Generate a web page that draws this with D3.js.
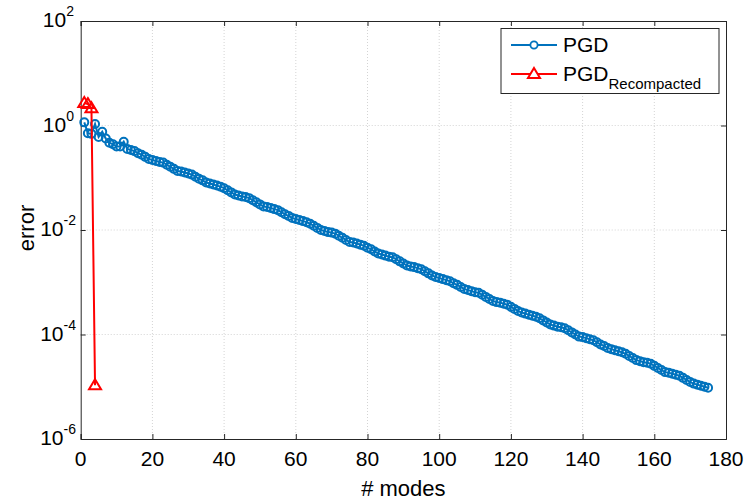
<!DOCTYPE html>
<html><head><meta charset="utf-8">
<script src="https://cdn.jsdelivr.net/npm/d3@7"></script>
<style>body{margin:0;background:#fff}svg{display:block}text{font-family:"Liberation Sans",Arial,sans-serif;fill:#000}</style>
</head><body>
<svg id="c" width="747" height="503"></svg>
<script>
// ---- data (log10 of error) ----
const pgdLog10 = [
  0.06,-0.15,-0.16,0.03,-0.22,-0.12,-0.25,-0.33,-0.36,-0.40,-0.40,-0.31,
  -0.45,-0.47,-0.49,-0.53,-0.56,-0.60,-0.64,-0.66,-0.68,-0.70,-0.71,-0.75,-0.79,-0.83,-0.87,-0.88,
  -0.90,-0.92,-0.94,-0.98,-1.02,-1.05,-1.09,-1.11,-1.13,-1.15,-1.17,-1.20,-1.24,-1.28,-1.32,-1.34,
  -1.36,-1.37,-1.39,-1.43,-1.47,-1.51,-1.55,-1.56,-1.58,-1.60,-1.62,-1.66,-1.70,-1.73,-1.77,-1.79,
  -1.81,-1.83,-1.85,-1.88,-1.92,-1.96,-2.00,-2.02,-2.04,-2.05,-2.07,-2.11,-2.15,-2.19,-2.23,-2.24,
  -2.26,-2.28,-2.30,-2.34,-2.37,-2.41,-2.45,-2.47,-2.49,-2.51,-2.52,-2.56,-2.60,-2.64,-2.68,-2.70,
  -2.71,-2.73,-2.75,-2.79,-2.83,-2.87,-2.90,-2.92,-2.94,-2.96,-2.98,-3.02,-3.05,-3.09,-3.13,-3.15,
  -3.17,-3.19,-3.20,-3.24,-3.28,-3.32,-3.36,-3.38,-3.39,-3.41,-3.43,-3.47,-3.51,-3.55,-3.58,-3.60,
  -3.62,-3.64,-3.66,-3.69,-3.73,-3.77,-3.81,-3.83,-3.85,-3.86,-3.88,-3.92,-3.96,-4.00,-4.04,-4.05,
  -4.07,-4.09,-4.11,-4.15,-4.19,-4.22,-4.26,-4.28,-4.30,-4.32,-4.34,-4.37,-4.41,-4.45,-4.49,-4.51,
  -4.53,-4.54,-4.56,-4.60,-4.64,-4.68,-4.72,-4.73,-4.75,-4.77,-4.79,-4.83,-4.87,-4.91,-4.94,-4.96,
  -4.98,-5.00,-5.02
];
const recompModes = [1, 2, 3, 4];
const recompLog10 = [0.43, 0.41, 0.33, -4.97];
const xTicks = [0, 20, 40, 60, 80, 100, 120, 140, 160, 180];
const yTickExps = [-6, -4, -2, 0, 2];
const seriesNames = ["PGD", "PGD"];
const seriesSub = ["", "Recompacted"];
const seriesColors = ["#0072BD", "#FF0000"];

const pgd = pgdLog10.map((v, i) => ({x: i + 1, y: Math.pow(10, v)}));
const rec = recompModes.map((m, i) => ({x: m, y: Math.pow(10, recompLog10[i])}));

const L = 80.7, R = 726, T = 21, B = 439;
const x = d3.scaleLinear().domain([0, 180]).range([L, R]);
const y = d3.scaleLog().domain([1e-6, 1e2]).range([B, T]);
const svg = d3.select("#c");
const axisCol = "#262626";

// grid
const grid = svg.append("g");
grid.selectAll("line.gx").data(xTicks.slice(1, -1)).enter().append("line")
  .attr("x1", d => x(d)).attr("x2", d => x(d)).attr("y1", T).attr("y2", B)
  .attr("stroke", "#d4d4d4").attr("stroke-width", 1).attr("stroke-dasharray", "1,2");
grid.selectAll("line.gy").data(yTickExps.slice(1, -1)).enter().append("line")
  .attr("y1", d => y(Math.pow(10, d))).attr("y2", d => y(Math.pow(10, d))).attr("x1", L).attr("x2", R)
  .attr("stroke", "#d4d4d4").attr("stroke-width", 1).attr("stroke-dasharray", "1,2");

// axes via d3
const xAxisB = d3.axisBottom(x).tickValues(xTicks).tickSize(-5).tickFormat("");
const xAxisT = d3.axisTop(x).tickValues(xTicks).tickSize(-5).tickFormat("");
const yVals = yTickExps.map(e => Math.pow(10, e));
const yAxisL = d3.axisLeft(y).tickValues(yVals).tickSize(-5).tickFormat("");
const yAxisR = d3.axisRight(y).tickValues(yVals).tickSize(-5).tickFormat("");
function styleAxis(g) {
  g.selectAll("path").attr("stroke", axisCol).attr("stroke-width", 1);
  g.selectAll("line").attr("stroke", axisCol).attr("stroke-width", 1);
}
svg.append("g").attr("transform", `translate(0,${B})`).call(xAxisB).call(styleAxis);
svg.append("g").attr("transform", `translate(0,${T})`).call(xAxisT).call(styleAxis);
svg.append("g").attr("transform", `translate(${L},0)`).call(yAxisL).call(styleAxis);
svg.append("g").attr("transform", `translate(${R},0)`).call(yAxisR).call(styleAxis);

// tick labels
svg.append("g").selectAll("text").data(xTicks).enter().append("text")
  .attr("x", d => x(d)).attr("y", 466).attr("text-anchor", "middle")
  .attr("font-size", 21).text(d => d);
const yl = svg.append("g").selectAll("text").data(yTickExps).enter().append("text")
  .attr("y", d => y(Math.pow(10, d)) + 6).attr("text-anchor", "end")
  .attr("font-size", 21);
yl.each(function(d) {
  const t = d3.select(this);
  t.append("tspan").text("10");
  t.append("tspan").attr("dy", -11).attr("font-size", 14).text(d);
});
yl.attr("x", d => d < 0 ? 76 : 74);

// axis titles
svg.append("text").attr("x", (L + R) / 2).attr("y", 496).attr("text-anchor", "middle")
  .attr("font-size", 22).text("# modes");
svg.append("text").attr("transform", `translate(34,${(T + B) / 2 - 2}) rotate(-90)`)
  .attr("text-anchor", "middle").attr("font-size", 22).text("error");

// series
const line = d3.line().x(d => x(d.x)).y(d => y(d.y));
const plot = svg.append("g");
plot.append("path").datum(pgd).attr("d", line).attr("fill", "none")
  .attr("stroke", seriesColors[0]).attr("stroke-width", 2);
plot.selectAll("circle").data(pgd).enter().append("circle")
  .attr("cx", d => x(d.x)).attr("cy", d => y(d.y)).attr("r", 4)
  .attr("fill", "none").attr("stroke", seriesColors[0]).attr("stroke-width", 2);
plot.append("path").datum(rec).attr("d", line).attr("fill", "none")
  .attr("stroke", seriesColors[1]).attr("stroke-width", 2);
const tri = (cx, cy) => `M${cx},${cy - 6}L${cx + 6},${cy + 4}L${cx - 6},${cy + 4}Z`;
plot.selectAll("path.tri").data(rec).enter().append("path").attr("class", "tri")
  .attr("d", d => tri(x(d.x), y(d.y))).attr("fill", "none")
  .attr("stroke", seriesColors[1]).attr("stroke-width", 2);

// legend
const lg = svg.append("g");
lg.append("rect").attr("x", 501).attr("y", 28.5).attr("width", 218).attr("height", 65)
  .attr("fill", "#fff").attr("stroke", axisCol).attr("stroke-width", 1);
const rows = [45, 74];
rows.forEach((ry, i) => {
  lg.append("line").attr("x1", 511).attr("x2", 557).attr("y1", ry).attr("y2", ry)
    .attr("stroke", seriesColors[i]).attr("stroke-width", 2);
  if (i === 0) {
    lg.append("circle").attr("cx", 534).attr("cy", ry).attr("r", 3.6).attr("fill", "#fff")
      .attr("stroke", seriesColors[i]).attr("stroke-width", 1.8);
  } else {
    lg.append("path").attr("d", tri(534, ry)).attr("fill", "#fff")
      .attr("stroke", seriesColors[i]).attr("stroke-width", 2);
  }
  const t = lg.append("text").attr("x", 563).attr("y", ry + 7).attr("font-size", 21);
  t.append("tspan").text(seriesNames[i]);
  if (seriesSub[i]) t.append("tspan").attr("dy", 8).attr("font-size", 15).text(seriesSub[i]);
});
</script>
</body></html>
